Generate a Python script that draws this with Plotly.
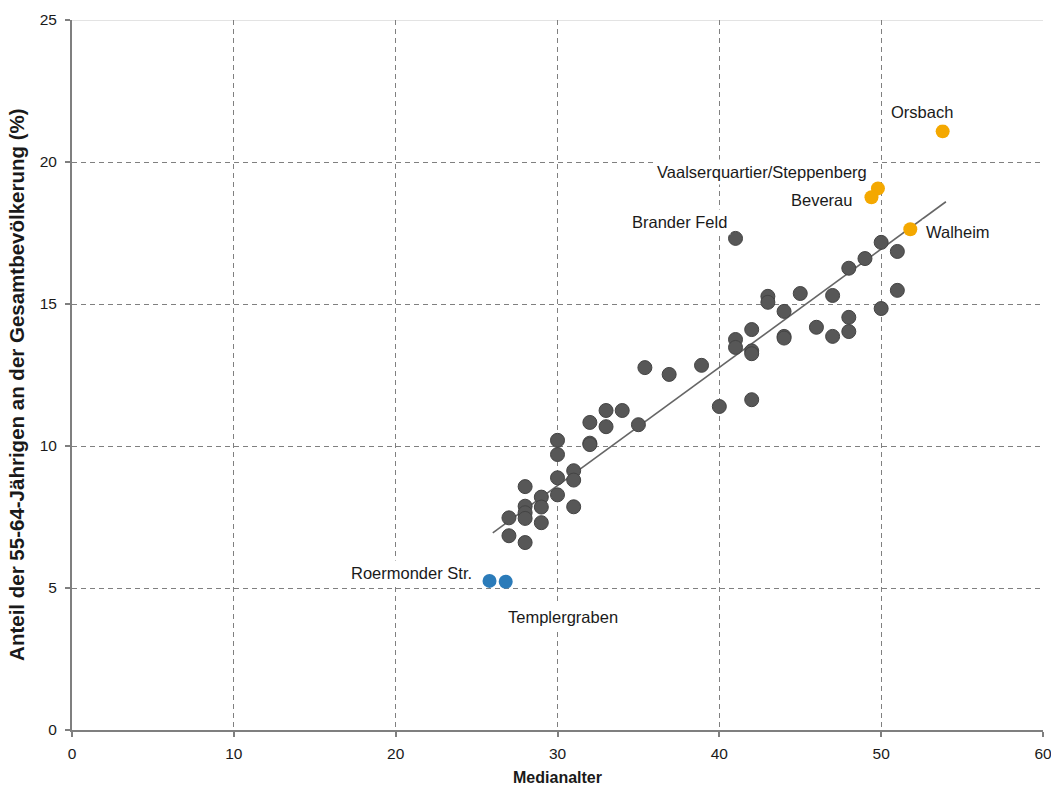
import plotly.graph_objects as go

# ---- data ----
gray_x = [27, 27, 28, 28, 28, 28, 28, 29, 29, 29, 30, 30, 30, 30, 31, 31, 31,
          32, 32, 32, 33, 33, 34, 35, 35.4, 36.9, 38.9, 40, 41, 41, 41,
          42, 42, 42, 42, 43, 43, 44, 44, 44, 45, 46, 47, 47, 48, 48, 48,
          49, 50, 50, 51, 51]
gray_y = [7.47, 6.84, 8.57, 7.88, 7.65, 7.45, 6.60, 8.20, 7.85, 7.30, 10.20, 9.70, 8.88, 8.28,
          9.13, 8.80, 7.86, 10.83, 10.10, 10.05, 11.25, 10.68, 11.25, 10.75, 12.76, 12.52, 12.84,
          11.39, 17.31, 13.75, 13.47, 14.10, 13.35, 13.25, 11.63, 15.27, 15.06, 14.74, 13.86,
          13.80, 15.37, 14.18, 15.30, 13.86, 16.26, 14.53, 14.03, 16.60, 17.17, 14.84, 16.85, 15.48]

orange_names = ["Orsbach", "Vaalserquartier/Steppenberg", "Beverau", "Walheim"]
orange_x = [53.8, 49.8, 49.4, 51.8]
orange_y = [21.08, 19.07, 18.76, 17.63]

blue_names = ["Roermonder Str.", "Templergraben"]
blue_x = [25.8, 26.8]
blue_y = [5.25, 5.22]

gray_label_names = ["Brander Feld"]
gray_label_x = [41]
gray_label_y = [17.31]

trend_x = [26, 54]
trend_y = [6.94, 18.60]

x_ticks = [0, 10, 20, 30, 40, 50, 60]
y_ticks = [0, 5, 10, 15, 20, 25]

x_title = "Medianalter"
y_title = "Anteil der 55-64-Jährigen an der Gesamtbevölkerung (%)"

# ---- styling ----
GRAY = "#575757"
ORANGE = "#F4A800"
BLUE = "#2B7BB9"
AXIS = "#7f7f7f"
FONT = "Liberation Sans, Arial, sans-serif"

# label offsets in pixels: (xanchor, xshift, yshift)
label_pos = {
    "Orsbach": ("center", -21, 19),
    "Vaalserquartier/Steppenberg": ("right", -7, 16),
    "Beverau": ("right", -15, -3),
    "Walheim": ("left", 12, -3),
    "Brander Feld": ("right", -5, 16),
    "Roermonder Str.": ("right", -14, 8),
    "Templergraben": ("left", -2, -35),
}

fig = go.Figure()
fig.add_trace(go.Scatter(x=trend_x, y=trend_y, mode="lines",
                         line=dict(color="#666666", width=1.6), hoverinfo="skip"))
fig.add_trace(go.Scatter(x=gray_x, y=gray_y, mode="markers",
                         marker=dict(size=14, color=GRAY, line=dict(color="#444444", width=1))))
fig.add_trace(go.Scatter(x=orange_x, y=orange_y, mode="markers",
                         marker=dict(size=14, color=ORANGE, line=dict(width=0))))
fig.add_trace(go.Scatter(x=blue_x, y=blue_y, mode="markers",
                         marker=dict(size=14, color=BLUE, line=dict(width=0))))

for names, xs, ys in [(orange_names, orange_x, orange_y),
                      (blue_names, blue_x, blue_y),
                      (gray_label_names, gray_label_x, gray_label_y)]:
    for n, xv, yv in zip(names, xs, ys):
        anc, dx, dy = label_pos[n]
        fig.add_annotation(x=xv, y=yv, text=n, showarrow=False,
                           xanchor=anc, yanchor="middle", xshift=dx, yshift=dy,
                           bgcolor="white", borderpad=3,
                           font=dict(family=FONT, size=16.5, color="#1a1a1a"))

# y-axis title as a rotated annotation (positioned like the reference)
fig.add_annotation(xref="paper", yref="paper", x=-0.057, y=0.487, text=y_title,
                   textangle=-90, showarrow=False, xanchor="center", yanchor="middle",
                   font=dict(family=FONT, size=20.5, weight="bold", color="#1a1a1a"))

# light top border line at the top of the plot area
fig.add_shape(type="line", xref="paper", x0=0, x1=1, yref="y", y0=25, y1=25,
              line=dict(color="#c8c8c8", width=1), layer="below")

fig.update_layout(
    width=1051, height=786,
    margin=dict(l=72, r=8, t=20, b=56),
    paper_bgcolor="white", plot_bgcolor="white",
    showlegend=False,
    font=dict(family=FONT, size=15, color="#1a1a1a"),
)
fig.update_xaxes(range=[0, 60], tickvals=x_ticks, showline=True, linecolor=AXIS, linewidth=2,
                 ticks="outside", ticklen=5, tickcolor=AXIS, tickwidth=2, automargin=False,
                 ticklabelstandoff=3, ticklabeloverflow="allow",
                 showgrid=True, gridcolor="#808080", griddash="5px,4px", gridwidth=1, zeroline=False,
                 title=dict(text=x_title, font=dict(family=FONT, size=16, weight="bold"), standoff=14),
                 tickfont=dict(family=FONT, size=15.5))
fig.update_yaxes(range=[0, 25], tickvals=y_ticks, showline=True, linecolor=AXIS, linewidth=2,
                 ticks="outside", ticklen=5, tickcolor=AXIS, tickwidth=2, automargin=False,
                 ticklabelstandoff=5, ticklabeloverflow="allow",
                 showgrid=True, gridcolor="#808080", griddash="5px,4px", gridwidth=1, zeroline=False,
                 tickfont=dict(family=FONT, size=15.5))

fig.write_html("out.html")
